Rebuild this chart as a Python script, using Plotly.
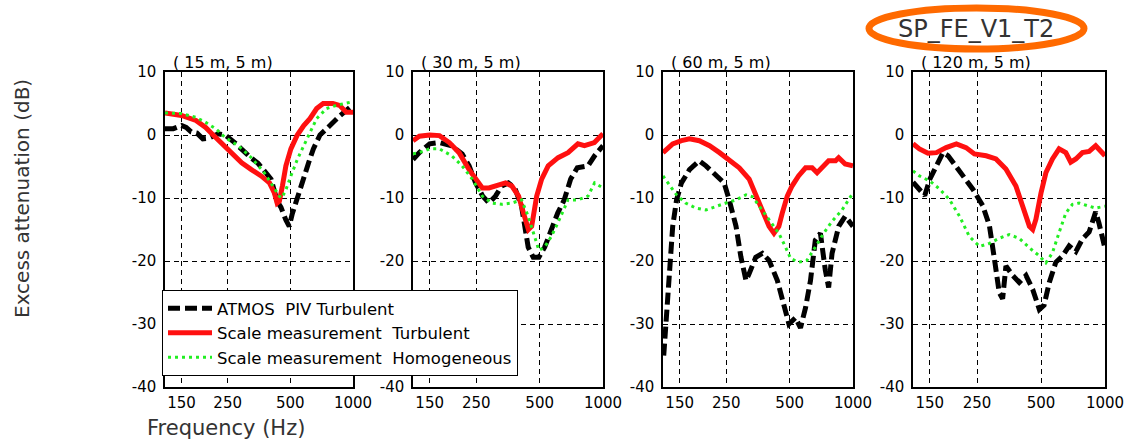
import math
import plotly.graph_objects as go

# ---------------- data ----------------
panel_titles = ["( 15 m, 5 m)", "( 30 m, 5 m)", "( 60 m, 5 m)", "( 120 m, 5 m)"]
series_names = ["ATMOS  PIV Turbulent", "Scale measurement  Turbulent", "Scale measurement  Homogeneous"]
x_tick_vals = [150, 250, 500, 1000]
x_tick_text = ["150", "250", "500", "1000"]
y_tick_vals = [10, 0, -10, -20, -30, -40]
y_tick_text = ["10", "0", "-10", "-20", "-30", "-40"]

# Panel 1 (15 m, 5 m)
p1_blk_f = [125, 137, 150, 158, 167, 178, 190, 203, 225, 243, 270, 292, 320, 350, 380, 404, 432, 451, 476, 494, 511, 540, 570, 612, 645, 694, 775, 862, 1000]
p1_blk_v = [1.0, 1.0, 1.5, 1.2, 0.5, 0.3, -0.6, -0.5, 0.2, 0.0, -1.2, -2.3, -3.5, -4.5, -5.8, -7.0, -10.5, -11.5, -13.5, -14.5, -12.5, -10.0, -7.0, -4.4, -2.2, 0.0, 1.5, 3.0, 4.8]
p1_red_f = [125, 150, 176, 196, 210, 227, 254, 292, 325, 362, 397, 419, 432, 443, 458, 476, 503, 540, 580, 621, 669, 719, 801, 862, 928, 1000]
p1_red_v = [3.5, 3.1, 2.3, 1.2, 0.2, -0.9, -2.5, -4.4, -5.5, -6.5, -7.6, -9.2, -10.8, -10.5, -8.1, -4.9, -2.2, 0.0, 1.5, 2.6, 4.2, 5.0, 5.0, 4.7, 3.6, 3.6]
p1_grn_f = [125, 150, 176, 196, 219, 243, 281, 325, 375, 410, 443, 455, 476, 503, 540, 580, 621, 669, 746, 831, 1000]
p1_grn_v = [3.5, 3.4, 2.8, 2.0, 1.0, -0.4, -1.7, -3.6, -6.0, -8.1, -9.7, -10.0, -8.7, -6.5, -3.9, -1.7, 0.4, 2.6, 4.2, 4.7, 5.3]

# Panel 2 (30 m, 5 m)
p2_blk_f = [125, 134, 150, 167, 191, 214, 231, 248, 268, 287, 308, 330, 355, 381, 410, 425, 441, 466, 496, 528, 568, 609, 654, 702, 755, 849, 912, 1000]
p2_blk_v = [-3.9, -2.8, -1.4, -1.2, -1.7, -3.0, -4.9, -7.6, -9.7, -10.8, -9.7, -8.1, -7.6, -8.4, -11.3, -15.0, -17.8, -19.4, -19.4, -17.8, -15.0, -12.4, -10.3, -7.0, -5.2, -4.9, -3.3, -1.7]
p2_red_f = [125, 134, 150, 167, 186, 207, 231, 248, 267, 287, 308, 344, 369, 397, 419, 442, 458, 484, 511, 549, 612, 682, 760, 816, 910, 1000]
p2_red_v = [-0.9, -0.2, 0.0, -0.1, -1.2, -2.8, -5.5, -7.0, -8.4, -8.4, -8.1, -7.6, -8.1, -9.7, -12.4, -15.0, -14.5, -9.7, -7.0, -4.9, -3.6, -2.8, -1.4, -1.7, -1.2, 0.2]
p2_grn_f = [125, 134, 150, 167, 191, 214, 239, 267, 297, 330, 369, 410, 441, 466, 496, 528, 568, 609, 682, 760, 849, 912, 1000]
p2_grn_v = [-3.0, -2.8, -2.2, -2.2, -3.3, -4.9, -7.0, -9.7, -10.8, -11.0, -10.8, -10.3, -12.9, -15.6, -18.3, -17.8, -16.1, -14.0, -10.3, -10.3, -9.7, -7.6, -8.4]

# Panel 3 (60 m, 5 m)
p3_blk_f = [126, 129, 132, 135, 139, 145, 153, 167, 186, 200, 223, 244, 258, 278, 293, 310, 321, 345, 371, 399, 437, 470, 496, 533, 563, 595, 628, 662, 700, 739, 766, 795, 855, 918, 1000]
p3_blk_v = [-35.0, -30.0, -25.0, -19.5, -14.5, -10.3, -7.6, -5.5, -4.1, -4.9, -6.5, -7.6, -10.3, -14.5, -19.3, -23.1, -22.0, -19.4, -18.8, -19.9, -23.1, -26.8, -30.0, -29.0, -30.6, -27.4, -23.1, -16.7, -15.6, -21.5, -24.2, -18.8, -14.5, -12.9, -14.5]
p3_red_f = [125, 139, 153, 167, 186, 208, 232, 258, 288, 321, 345, 371, 399, 421, 444, 461, 487, 513, 551, 595, 639, 675, 725, 766, 826, 855, 918, 1000]
p3_red_v = [-2.8, -1.4, -0.9, -0.6, -0.9, -1.7, -2.8, -3.9, -5.2, -7.0, -9.5, -12.4, -14.5, -15.6, -14.5, -12.4, -9.7, -8.1, -6.5, -5.2, -5.2, -6.0, -4.9, -4.1, -4.1, -3.6, -4.6, -4.9]
p3_grn_f = [125, 135, 145, 160, 179, 200, 223, 249, 278, 310, 333, 358, 399, 444, 478, 505, 551, 604, 662, 725, 795, 887, 1000]
p3_grn_v = [-6.5, -8.1, -9.5, -10.8, -11.6, -11.9, -11.3, -10.8, -10.3, -9.5, -9.8, -11.3, -13.5, -15.6, -17.8, -19.6, -20.2, -19.9, -17.8, -15.6, -13.7, -11.9, -9.2]

# Panel 4 (120 m, 5 m)
p4_blk_f = [125, 134, 142, 150, 161, 173, 183, 193, 214, 239, 266, 286, 302, 318, 330, 342, 368, 395, 425, 457, 491, 517, 547, 587, 631, 678, 729, 783, 842, 904, 937, 1000]
p4_blk_v = [-7.5, -8.6, -9.6, -7.0, -4.9, -2.8, -3.3, -4.3, -6.5, -8.6, -11.2, -14.4, -19.7, -25.0, -26.0, -20.8, -22.3, -23.4, -22.3, -24.5, -27.7, -27.0, -23.4, -20.2, -19.2, -17.6, -18.5, -16.5, -15.4, -12.2, -14.0, -18.0]
p4_red_f = [125, 134, 147, 161, 179, 200, 222, 243, 276, 307, 342, 381, 410, 441, 457, 473, 500, 527, 566, 608, 654, 690, 729, 783, 842, 904, 1000]
p4_red_v = [-1.4, -2.2, -2.9, -2.8, -2.0, -1.4, -2.0, -3.0, -3.3, -3.8, -5.4, -8.1, -11.3, -14.5, -15.0, -13.4, -9.2, -6.0, -3.8, -2.2, -2.8, -4.3, -3.8, -2.8, -2.6, -1.7, -3.3]
p4_grn_f = [125, 134, 150, 167, 186, 207, 230, 257, 286, 318, 354, 395, 441, 491, 527, 566, 608, 654, 703, 755, 842, 904, 1000]
p4_grn_v = [-5.7, -6.5, -7.3, -8.6, -10.3, -12.9, -16.1, -17.7, -17.2, -16.4, -15.8, -16.4, -17.9, -19.2, -20.3, -18.7, -15.5, -12.4, -11.0, -10.8, -11.3, -11.6, -11.3]

panels = [
    [(p1_blk_f, p1_blk_v), (p1_red_f, p1_red_v), (p1_grn_f, p1_grn_v)],
    [(p2_blk_f, p2_blk_v), (p2_red_f, p2_red_v), (p2_grn_f, p2_grn_v)],
    [(p3_blk_f, p3_blk_v), (p3_red_f, p3_red_v), (p3_grn_f, p3_grn_v)],
    [(p4_blk_f, p4_blk_v), (p4_red_f, p4_red_v), (p4_grn_f, p4_grn_v)],
]

# ---------------- styling ----------------
W, H = 1126, 448
FONT = "DejaVu Sans"
line_styles = [
    dict(color="black", width=5, dash="12px,5px"),
    dict(color="#ff1010", width=5, dash="solid"),
    dict(color="#22ee22", width=3, dash="3px,4px"),
]
panel_px = [(165, 353), (413, 603), (663, 853), (913, 1105)]
y_dom = [1 - 387 / H, 1 - 72 / H]

fig = go.Figure()
layout = dict(
    width=W, height=H,
    margin=dict(l=0, r=0, t=0, b=0, pad=0),
    paper_bgcolor="white", plot_bgcolor="white",
    template="none",
    font=dict(family=FONT, size=15, color="black"),
    showlegend=True,
    legend=dict(
        x=162 / W, y=1 - 290 / H, xanchor="left", yanchor="top",
        bgcolor="white", bordercolor="black", borderwidth=1,
        font=dict(family=FONT, size=16.5, color="black"),
        itemwidth=44, tracegroupgap=0,
    ),
)

annotations = []
for i, (series, (x0, x1)) in enumerate(zip(panels, panel_px)):
    sfx = "" if i == 0 else str(i + 1)
    xa, ya = "x" + sfx, "y" + sfx
    for j, (f, v) in enumerate(series):
        fig.add_trace(go.Scatter(
            x=f, y=v, mode="lines", name=series_names[j],
            line=line_styles[j], xaxis=xa, yaxis=ya,
            showlegend=(i == 0), legendrank=j,
        ))
    # the legend box hides panel 2's "-30" label in the reference
    ytext = [("" if (i == 1 and t == "-30") else t) for t in y_tick_text]
    common = dict(showline=True, mirror=True, linecolor="black", linewidth=1.5,
                  showgrid=True, gridcolor="black", gridwidth=1, griddash="5px,4px",
                  zeroline=False, ticks="", automargin=False,
                  tickfont=dict(family=FONT, size=15, color="black"))
    layout["xaxis" + sfx] = dict(
        common, type="log", range=[math.log10(125), 3],
        domain=[x0 / W, x1 / W], anchor=ya,
        tickvals=x_tick_vals, ticktext=x_tick_text, ticklabelstandoff=1,
    )
    layout["yaxis" + sfx] = dict(
        common, range=[-40, 10], domain=y_dom, anchor=xa,
        tickvals=y_tick_vals, ticktext=ytext, ticklabelstandoff=4,
    )
    annotations.append(dict(
        text=panel_titles[i], xref="paper", yref="paper",
        x=(x0 + 6) / W, y=1 - 62 / H, xanchor="left", yanchor="middle",
        showarrow=False, font=dict(family=FONT, size=16, color="black"),
    ))

annotations += [
    dict(text="Excess attenuation (dB)", xref="paper", yref="paper",
         x=22 / W, y=1 - 199 / H, textangle=-90, showarrow=False,
         xanchor="center", yanchor="middle",
         font=dict(family=FONT, size=20, color="#333333")),
    dict(text="Frequency (Hz)", xref="paper", yref="paper",
         x=226 / W, y=1 - 428 / H, showarrow=False,
         xanchor="center", yanchor="middle",
         font=dict(family=FONT, size=21, color="#333333")),
    dict(text="SP_FE_V1_T2", xref="paper", yref="paper",
         x=976 / W, y=1 - 29 / H, showarrow=False,
         xanchor="center", yanchor="middle",
         font=dict(family=FONT, size=24, color="#333333")),
]
layout["annotations"] = annotations
layout["shapes"] = [dict(
    type="circle", xref="paper", yref="paper",
    x0=869 / W, x1=1084 / W, y0=1 - 49 / H, y1=1 - 8 / H,
    line=dict(color="#ff6a00", width=7), fillcolor="rgba(0,0,0,0)",
)]

fig.update_layout(**layout)
fig.write_html("out.html", config={"displayModeBar": False},
               post_script="document.body.style.margin='0px';")
